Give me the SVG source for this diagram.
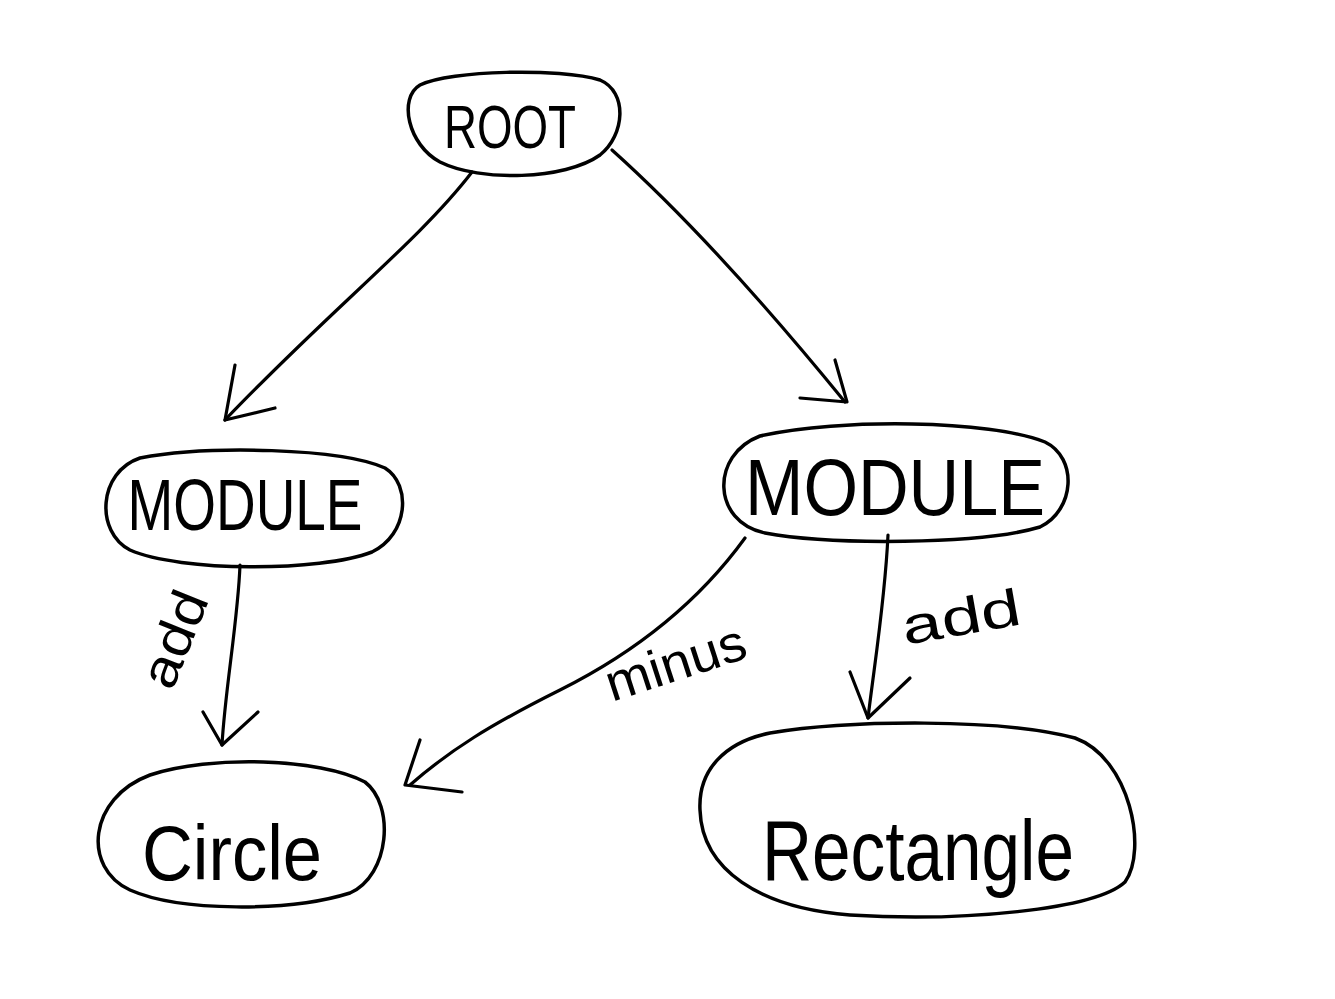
<svg xmlns="http://www.w3.org/2000/svg" width="1335" height="999" viewBox="0 0 1335 999">
<style>
.n{fill:none;stroke:#000;stroke-width:3.5;stroke-linecap:round;stroke-linejoin:round}
.t{font-family:"Liberation Sans Narrow","Liberation Sans",sans-serif;fill:#000;font-weight:normal}
.c{fill:none;stroke:#000;stroke-width:3.2;stroke-linecap:round;stroke-linejoin:round}
.l{font-family:"Liberation Sans Narrow","Liberation Sans",sans-serif;fill:#000;font-size:52px}
</style>
<rect width="1335" height="999" fill="#fff"/>
<g id="root">
<path class="n" d="M420,85 C450,70 560,68 600,80 C628,92 625,135 600,155 C565,180 480,182 440,162 C408,145 398,98 420,85 Z"/>
<text class="t" x="510" y="148" font-size="62" text-anchor="middle" textLength="132" lengthAdjust="spacingAndGlyphs">ROOT</text>
</g>
<g id="module-left">
<path class="n" d="M140,458 C210,445 340,448 385,468 C412,485 408,535 372,552 C320,572 180,572 130,550 C95,532 98,472 140,458 Z"/>
<text class="t" x="245" y="530" font-size="72" text-anchor="middle" textLength="235" lengthAdjust="spacingAndGlyphs">MODULE</text>
</g>
<g id="module-right">
<path class="n" d="M760,436 C840,418 990,420 1045,442 C1078,458 1075,510 1040,527 C980,545 830,545 765,533 C712,522 710,455 760,436 Z"/>
<text class="t" x="895" y="515" font-size="80" text-anchor="middle" textLength="300" lengthAdjust="spacingAndGlyphs">MODULE</text>
</g>
<g id="circle">
<path class="n" d="M150,775 C210,755 320,758 365,782 C395,805 390,875 350,893 C290,912 180,912 130,890 C82,868 88,798 150,775 Z"/>
<text class="t" x="232" y="880" font-size="78" text-anchor="middle" textLength="180" lengthAdjust="spacingAndGlyphs">Circle</text>
</g>
<g id="rectangle">
<path class="n" d="M770,733 C850,720 1000,718 1075,738 C1130,758 1148,850 1125,882 C1095,910 960,922 850,915 C760,908 702,870 700,810 C698,770 725,742 770,733 Z"/>
<text class="t" x="918" y="880" font-size="86" text-anchor="middle" textLength="312" lengthAdjust="spacingAndGlyphs">Rectangle</text>
</g>
<g id="connectors">
<path class="c" d="M472,172 C420,240 330,310 225,420"/>
<path class="c" d="M235,365 L225,420 L275,408"/>
<path class="c" d="M612,150 C690,220 770,310 845,402"/>
<path class="c" d="M835,360 L847,402 L800,398"/>
<path class="c" d="M240,565 C238,620 225,690 222,745"/>
<path class="c" d="M203,712 L222,745 L258,712"/>
<path class="c" d="M745,538 C700,600 640,650 560,690 C490,725 450,750 410,785"/>
<path class="c" d="M420,740 L405,785 L462,792"/>
<path class="c" d="M888,535 C885,600 875,660 868,718"/>
<path class="c" d="M850,672 L868,718 L910,678"/>
<text class="l" x="0" y="0" transform="translate(172,692) rotate(-68)" textLength="100" lengthAdjust="spacingAndGlyphs">add</text>
<text class="l" x="0" y="0" transform="translate(612,702) rotate(-18)" textLength="145" lengthAdjust="spacingAndGlyphs">minus</text>
<text class="l" x="0" y="0" transform="translate(905,645) rotate(-10)" textLength="120" lengthAdjust="spacingAndGlyphs" font-size="62">add</text>
</g>
</svg>
